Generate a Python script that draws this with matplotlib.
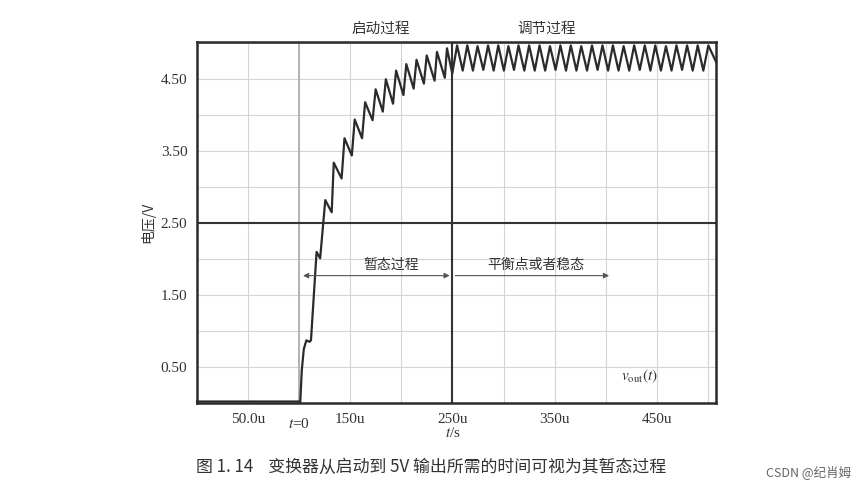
import matplotlib
matplotlib.use('Agg')
import matplotlib.pyplot as plt

plt.rcParams['font.family'] = ['Liberation Serif', 'Noto Sans CJK SC']
plt.rcParams['mathtext.fontset'] = 'stix'

CJK = ['Noto Sans CJK SC', 'DejaVu Sans']

# startup transient vertices (time in us, voltage in V)
startup_t = [0, 100, 101, 102.5, 104.5, 107, 110, 111.5, 117, 120.5, 125.5, 131.8,
             133.8, 141.5, 144.3, 151.5, 154.3, 161.5, 164.5, 171.8, 174.8, 181.8,
             184.8, 191.8, 194.8, 202, 204.8, 212, 214.8, 222, 224.8, 232.5, 234.8,
             242.5, 244.6, 249.8]
startup_v = [0.02, 0.02, 0.0, 0.45, 0.75, 0.87, 0.85, 0.87, 2.10, 2.01, 2.82, 2.65,
             3.34, 3.12, 3.68, 3.44, 3.94, 3.68, 4.18, 3.93, 4.36, 4.05,
             4.50, 4.16, 4.62, 4.28, 4.71, 4.37, 4.77, 4.44, 4.83, 4.48, 4.88,
             4.52, 4.93, 4.58]

# regulated ripple: peaks and troughs
peak_t = [254.5, 264.5, 274.5, 284.8, 294.8, 304.7, 314.6, 325.0, 335.2, 345.4,
          355.6, 365.8, 376.0, 386.5, 396.8, 407.0, 417.5, 427.8, 438.2, 448.5,
          458.9, 469.2, 479.6, 490.0, 500.4]
peak_v = [4.97, 4.97, 4.96, 4.97, 4.97, 4.96, 4.97, 4.97, 4.97, 4.96,
          4.97, 4.97, 4.96, 4.97, 4.97, 4.97, 4.96, 4.97, 4.97, 4.97,
          4.96, 4.97, 4.97, 4.97, 4.97]
trough_t = [260.0, 270.0, 280.2, 290.3, 300.3, 310.2, 320.3, 330.5, 340.7, 350.9,
            361.1, 371.3, 381.7, 392.0, 402.3, 412.5, 423.0, 433.3, 443.7, 454.0,
            464.4, 474.7, 485.1, 495.5]
trough_v = [4.62, 4.62, 4.63, 4.62, 4.62, 4.63, 4.62, 4.62, 4.62, 4.63,
            4.62, 4.62, 4.62, 4.63, 4.62, 4.62, 4.62, 4.63, 4.62, 4.62,
            4.62, 4.63, 4.62, 4.62]
end_t, end_v = 508, 4.74

x_ticks = [50, 150, 250, 350, 450]
x_labels = ['50.0u', '150u', '250u', '350u', '450u']
y_ticks = [0.5, 1.5, 2.5, 3.5, 4.5]
y_labels = ['0.50', '1.50', '2.50', '3.50', '4.50']

t = list(startup_t)
v = list(startup_v)
for i in range(len(peak_t)):
    t.append(peak_t[i]); v.append(peak_v[i])
    if i < len(trough_t):
        t.append(trough_t[i]); v.append(trough_v[i])
t.append(end_t); v.append(end_v)

fig = plt.figure(figsize=(8.68, 4.92), dpi=100)
ax = fig.add_axes([0.227, 0.181, 0.598, 0.734])
ax.set_xlim(0, 508)
ax.set_ylim(0, 5.02)

for gx in range(50, 508, 50):
    ax.axvline(gx, color='#d4d4d4', lw=0.8, zorder=0)
for k in range(1, 11):
    ax.axhline(0.5 * k, color='#d4d4d4', lw=0.8, zorder=0)
ax.axvline(100, color='#b4b4b4', lw=1.4, zorder=1)
ax.axvline(250, color='#333333', lw=1.5, zorder=2)
ax.axhline(2.5, color='#333333', lw=1.5, zorder=2)

ax.plot(t, v, color='#2b2b2b', lw=1.6, zorder=3, clip_on=False)

for s in ax.spines.values():
    s.set_linewidth(1.8)
    s.set_color('#2b2b2b')

ax.set_xticks(x_ticks)
ax.set_xticklabels(x_labels)
ax.set_yticks(y_ticks)
ax.set_yticklabels(y_labels)
ax.tick_params(length=0, labelsize=11, pad=7, colors='#333333')

ax.set_ylabel('电压/V', family=CJK, fontsize=10, color='#333333', labelpad=4)
ax.text(100, -0.29, r'$t$=0', ha='center', va='center', fontsize=11, color='#333333')
ax.text(250, -0.42, r'$t$/s', ha='center', va='center', fontsize=11, color='#333333')

ax.text(180, 5.2, '启动过程', family=CJK, ha='center', va='center', fontsize=10.5, color='#333333')
ax.text(342, 5.2, '调节过程', family=CJK, ha='center', va='center', fontsize=10.5, color='#333333')

# arrows
ax.annotate('', xy=(101, 1.77), xytext=(250, 1.77),
            arrowprops=dict(arrowstyle='<|-|>', color='#555555', lw=0.8, mutation_scale=8))
ax.annotate('', xy=(406, 1.77), xytext=(250, 1.77),
            arrowprops=dict(arrowstyle='-|>', color='#555555', lw=0.8, mutation_scale=8))
ax.text(190, 1.92, '暂态过程', family=CJK, ha='center', va='center', fontsize=10, color='#333333')
ax.text(332, 1.92, '平衡点或者稳态', family=CJK, ha='center', va='center', fontsize=10, color='#333333')

ax.text(433, 0.37, r'$v_{\rm out}(t)$', ha='center', va='center', fontsize=11, color='#333333')

fig.text(0.497, 0.051, '图 1. 14    变换器从启动到 5V 输出所需的时间可视为其暂态过程',
         family=CJK, ha='center', va='center', fontsize=12.2, color='#333333')
fig.text(0.932, 0.040, 'CSDN @纪肖姆', family=CJK, ha='center', va='center',
         fontsize=9, color='#666666')

fig.savefig('out.png', dpi=100)
